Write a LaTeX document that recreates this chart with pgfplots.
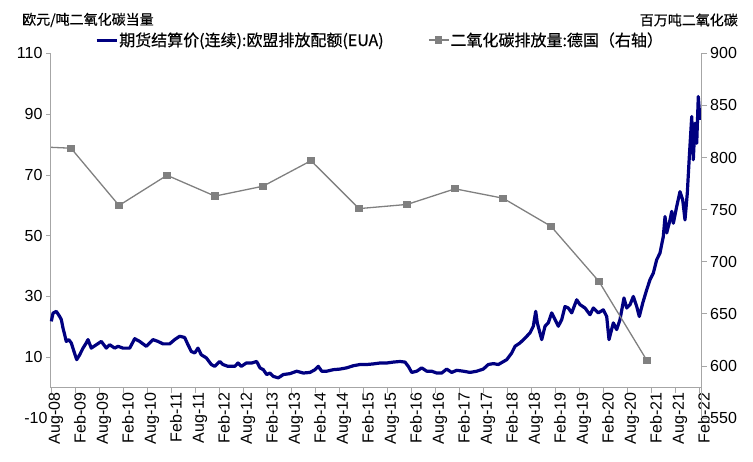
\documentclass[border=0pt]{standalone}
\usepackage{pgfplots}
\usepackage{pgfplotstable}
\pgfplotsset{compat=1.18}
\usepackage{fontspec}
\setmainfont{Liberation Sans}
\newfontfamily\cjk[FakeBold=0.5]{Noto Sans CJK SC}
\definecolor{eua}{RGB}{0,0,128}
\definecolor{emi}{RGB}{128,128,128}
\definecolor{axgray}{RGB}{166,166,166}

\pgfplotstableread{
x y
2008.590 21.8
2008.625 24.5
2008.693 25.1
2008.764 23.4
2008.798 22.4
2008.833 19.6
2008.868 17.4
2008.902 15.2
2008.952 15.8
2009.006 14.7
2009.062 11.9
2009.118 9.2
2009.181 10.8
2009.250 13.0
2009.318 14.7
2009.354 15.8
2009.423 13.0
2009.527 14.1
2009.631 15.2
2009.735 13.0
2009.806 14.1
2009.910 13.0
2009.979 13.6
2010.083 13.0
2010.223 13.0
2010.327 16.1
2010.431 15.2
2010.568 13.6
2010.708 15.8
2010.812 15.2
2010.916 14.4
2011.056 14.4
2011.160 15.8
2011.264 16.9
2011.368 16.5
2011.437 14.1
2011.506 11.9
2011.577 11.4
2011.646 13.0
2011.714 10.8
2011.818 9.8
2011.923 7.6
2011.993 7.0
2012.098 8.6
2012.166 7.6
2012.270 7.0
2012.410 7.0
2012.479 8.1
2012.548 7.0
2012.652 8.1
2012.764 8.1
2012.868 8.6
2012.937 6.5
2013.006 5.9
2013.077 4.3
2013.146 4.8
2013.214 3.7
2013.318 3.2
2013.423 4.3
2013.562 4.6
2013.702 5.4
2013.839 4.8
2013.979 5.0
2014.083 5.9
2014.152 7.0
2014.223 5.4
2014.327 5.4
2014.464 5.9
2014.604 6.1
2014.743 6.5
2014.881 7.2
2015.020 7.6
2015.160 7.6
2015.298 7.8
2015.437 8.1
2015.577 8.1
2015.714 8.4
2015.854 8.6
2015.958 8.4
2016.027 7.0
2016.098 5.0
2016.202 5.4
2016.306 6.5
2016.410 5.4
2016.514 5.4
2016.618 4.8
2016.723 4.8
2016.827 6.1
2016.931 5.0
2017.035 5.7
2017.173 5.4
2017.312 5.0
2017.452 5.4
2017.589 6.1
2017.693 7.6
2017.798 7.9
2017.902 7.6
2018.077 9.2
2018.181 11.4
2018.250 13.6
2018.354 14.7
2018.458 16.3
2018.562 18.0
2018.631 20.2
2018.681 25.1
2018.714 21.3
2018.806 15.8
2018.875 20.2
2018.943 21.3
2019.014 24.6
2019.083 22.4
2019.152 20.2
2019.223 22.4
2019.291 26.7
2019.360 26.2
2019.431 24.6
2019.535 28.9
2019.604 27.3
2019.708 26.2
2019.812 24.0
2019.881 26.2
2019.985 24.6
2020.089 25.6
2020.160 23.4
2020.208 15.8
2020.298 21.3
2020.368 19.1
2020.437 22.4
2020.520 29.5
2020.577 26.2
2020.646 27.3
2020.714 30.0
2020.785 26.7
2020.839 23.4
2020.910 27.8
2020.993 32.2
2021.062 35.5
2021.131 37.7
2021.202 42.1
2021.270 44.3
2021.339 49.7
2021.375 56.3
2021.410 50.9
2021.479 55.2
2021.514 58.0
2021.548 54.1
2021.618 59.6
2021.687 64.5
2021.743 61.8
2021.791 55.2
2021.839 64.0
2021.881 76.0
2021.931 89.2
2021.964 75.0
2022.000 87.0
2022.035 80.4
2022.068 95.8
2022.104 88.1
}\euadata

\pgfplotstableread{
x y
2008.0 811
2009.0 809
2010.0 754
2011.0 783
2012.0 763
2013.0 772.5
2014.0 797
2015.0 751
2016.0 755
2017.0 770
2018.0 761
2019.0 734
2020.0 681
2021.0 605
}\emidata

\begin{document}
\begin{tikzpicture}
\pgfplotsset{
  every axis/.append style={
    scale only axis, width=650.7pt, height=364.6pt,
    at={(0pt,0pt)}, anchor=south west,
    xmin=2008.5833, xmax=2022.139,
    tick style={axgray, line width=0.8pt},
    major tick length=5pt,
    tick align=outside,
    tick label style={font=\fontsize{16}{19}\selectfont, black},
    /pgf/number format/assume math mode=true,
  }
}
\begin{axis}[
  ymin=-10, ymax=110,
  axis x line*=middle, axis y line*=left,
  hide obscured x ticks=false, hide obscured y ticks=false,
  x axis line style={axgray, line width=1pt, -},
  y axis line style={draw=none},
  ytick={10,30,...,110},
  extra y ticks={-10},
  extra y tick style={major tick length=0pt},
  xtick={2008.5833,2009.0833,2009.5833,2010.0833,2010.5833,2011.0833,2011.5833,2012.0833,2012.5833,2013.0833,2013.5833,2014.0833,2014.5833,2015.0833,2015.5833,2016.0833,2016.5833,2017.0833,2017.5833,2018.0833,2018.5833,2019.0833,2019.5833,2020.0833,2020.5833,2021.0833,2021.5833,2022.0833},
  xticklabels={Aug-08,Feb-09,Aug-09,Feb-10,Aug-10,Feb-11,Aug-11,Feb-12,Aug-12,Feb-13,Aug-13,Feb-14,Aug-14,Feb-15,Aug-15,Feb-16,Aug-16,Feb-17,Aug-17,Feb-18,Aug-18,Feb-19,Aug-19,Feb-20,Aug-20,Feb-21,Aug-21,Feb-22},
  xticklabel style={rotate=90, anchor=east, inner sep=0pt, yshift=-5pt},
  clip=false,
]
\draw[axgray, line width=1pt] (axis cs:2008.5833,0) -- (axis cs:2008.5833,110);
\addplot[eua, line width=3.2pt, line join=round, no marks] table[x=x,y=y] {\euadata};
\end{axis}
\begin{axis}[
  ymin=550, ymax=900,
  axis x line=none, axis y line*=right,
  y axis line style={axgray, line width=1pt, -},
  ytick={550,600,...,900},
  legend columns=2,
  legend style={draw=none, fill=none, inner sep=0pt,
    at={(0.0676,1.0367)}, anchor=west,
    font=\cjk\fontsize{16}{19}\selectfont,
    nodes={inner sep=1pt, anchor=west}},
  legend cell align=left,
  legend image code/.code={\draw[mark repeat=2,mark phase=2,#1] plot coordinates {(0pt,0pt) (10pt,0pt) (20pt,0pt)};},
]
\addlegendimage{eua, line width=3pt, no marks}
\addlegendentry{\makebox[308pt][l]{期货结算价(连续):欧盟排放配额(EUA)}}
\addplot[emi, line width=1.3pt, mark=square*, mark size=3pt, mark options={fill=emi, draw=emi}] table[x=x,y=y] {\emidata};
\addlegendentry{二氧化碳排放量:德国（右轴）}
\end{axis}
\node[anchor=west, inner sep=0pt, font=\cjk\fontsize{14}{16}\selectfont] at (-29pt,398pt) {欧元/吨二氧化碳当量};
\node[anchor=east, inner sep=0pt, font=\cjk\fontsize{14}{16}\selectfont] at (687pt,398pt) {百万吨二氧化碳};
\pgfresetboundingbox
\path[use as bounding box] (-51pt,-44pt) rectangle (702pt,418pt);
\end{tikzpicture}
\end{document}
